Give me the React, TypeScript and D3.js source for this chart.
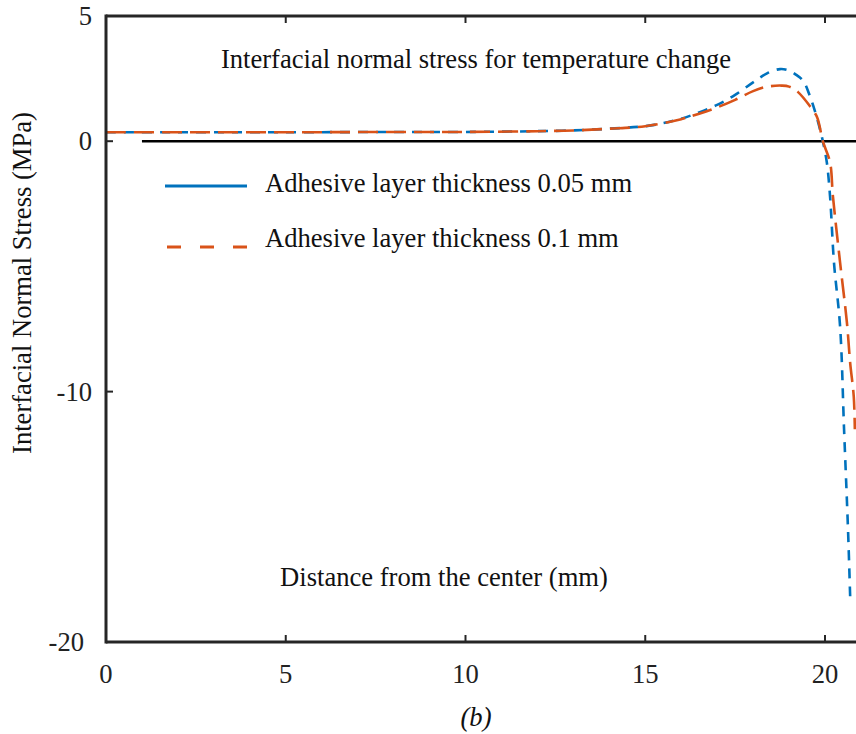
import React from "react";
import * as d3 from "d3";

const xTicks = [0, 5, 10, 15, 20];
const yTicks = [5, 0, -10, -20];

const xBlue = [0, 2, 4, 6, 8, 10, 12, 13, 14, 15, 15.5, 16, 16.5, 17, 17.5, 18, 18.4, 18.75, 19, 19.2, 19.4, 19.58, 19.72, 19.86, 19.94, 20.05, 20.14, 20.25, 20.42, 20.53, 20.64, 20.7];
const yBlue = [0.36, 0.36, 0.36, 0.36, 0.37, 0.37, 0.4, 0.43, 0.5, 0.6, 0.72, 0.9, 1.15, 1.45, 1.85, 2.35, 2.72, 2.88, 2.82, 2.65, 2.4, 1.8, 1.2, 0.48, 0, -0.84, -2.19, -4.85, -7.4, -11.5, -15.5, -18.2];

const xOrange = [0, 2, 4, 6, 8, 10, 12, 13, 14, 15, 16, 16.5, 17, 17.5, 18, 18.4, 18.8, 19.0, 19.25, 19.58, 19.78, 19.94, 20.14, 20.22, 20.42, 20.61, 20.7, 20.8, 20.83];
const yOrange = [0.36, 0.36, 0.36, 0.36, 0.37, 0.37, 0.4, 0.43, 0.5, 0.6, 0.88, 1.1, 1.35, 1.65, 2.0, 2.18, 2.22, 2.18, 1.96, 1.4, 0.96, 0, -0.84, -2.19, -4.85, -7.25, -8.85, -10.2, -11.5];

const legendLabels = ["Adhesive layer thickness 0.05 mm", "Adhesive layer thickness 0.1 mm"];
const titleText = "Interfacial normal stress for temperature change";
const xLabel = "Distance from the center (mm)";
const yLabel = "Interfacial Normal Stress (MPa)";

const W = 856, H = 734;
const left = 106, right = 900, top = 16, bottom = 642;
const x = d3.scaleLinear().domain([0, 20]).range([106, 825]);
const y = d3.scaleLinear().domain([-20, 5]).range([bottom, top]);

const BLUE = "#0072BD";
const ORANGE = "#D95319";
const AX = "#262626";
const FONT = "'Liberation Serif', 'Times New Roman', serif";
const FS = 26.6;

export default function App() {
  const line = d3.line<[number, number]>().x(d => x(d[0])).y(d => y(d[1])).curve(d3.curveCatmullRom.alpha(0.5));
  const blue = line(xBlue.map((v, i) => [v, yBlue[i]] as [number, number])) || "";
  const orange = line(xOrange.map((v, i) => [v, yOrange[i]] as [number, number])) || "";
  return (
    <svg width={W} height={H} style={{ position: "absolute", left: 0, top: 0, background: "#fff" }} fontFamily={FONT}>
      <rect x={0} y={0} width={W} height={H} fill="#fff" />
      <line x1={x(1)} x2={W} y1={y(0)} y2={y(0)} stroke="#000" strokeWidth={2.5} />
      <path d={blue} fill="none" stroke={BLUE} strokeWidth={2.6} strokeDasharray="10,8" />
      <path d={orange} fill="none" stroke={ORANGE} strokeWidth={2.6} strokeDasharray="20,8" />
      <line x1={left} x2={right} y1={top} y2={top} stroke={AX} strokeWidth={3} />
      <line x1={left} x2={right} y1={bottom} y2={bottom} stroke={AX} strokeWidth={3} />
      <line x1={left} x2={left} y1={top - 1.5} y2={bottom + 1.5} stroke={AX} strokeWidth={3} />
      {xTicks.map(t => (
        <g key={"xt" + t}>
          <line x1={x(t)} x2={x(t)} y1={bottom} y2={bottom - 7} stroke={AX} strokeWidth={2} />
          <line x1={x(t)} x2={x(t)} y1={top} y2={top + 7} stroke={AX} strokeWidth={2} />
          <text x={x(t)} y={683} fontSize={FS} textAnchor="middle" fill="#222">{t}</text>
        </g>
      ))}
      {yTicks.map(t => (
        <g key={"yt" + t}>
          <line x1={left} x2={left + 7} y1={y(t)} y2={y(t)} stroke={AX} strokeWidth={2} />
          <text x={t === -20 ? 84 : 92} y={y(t) + 9} fontSize={FS} textAnchor="end" fill="#222">{t}</text>
        </g>
      ))}
      <text x={476} y={68} fontSize={FS} textAnchor="middle" fill="#111">{titleText}</text>
      <text x={444} y={586} fontSize={FS} textAnchor="middle" fill="#111">{xLabel}</text>
      <text transform={`translate(31,283) rotate(-90)`} fontSize={FS} textAnchor="middle" fill="#111">{yLabel}</text>
      <text x={476} y={726} fontSize={FS} fontStyle="italic" textAnchor="middle" fill="#111">(b)</text>
      <line x1={165} x2={247} y1={186} y2={186} stroke={BLUE} strokeWidth={3} />
      <text x={265} y={192} fontSize={FS} fill="#111">{legendLabels[0]}</text>
      <line x1={167} x2={249} y1={247} y2={247} stroke={ORANGE} strokeWidth={3} strokeDasharray="14,19" />
      <text x={265} y={247} fontSize={FS} fill="#111">{legendLabels[1]}</text>
    </svg>
  );
}
